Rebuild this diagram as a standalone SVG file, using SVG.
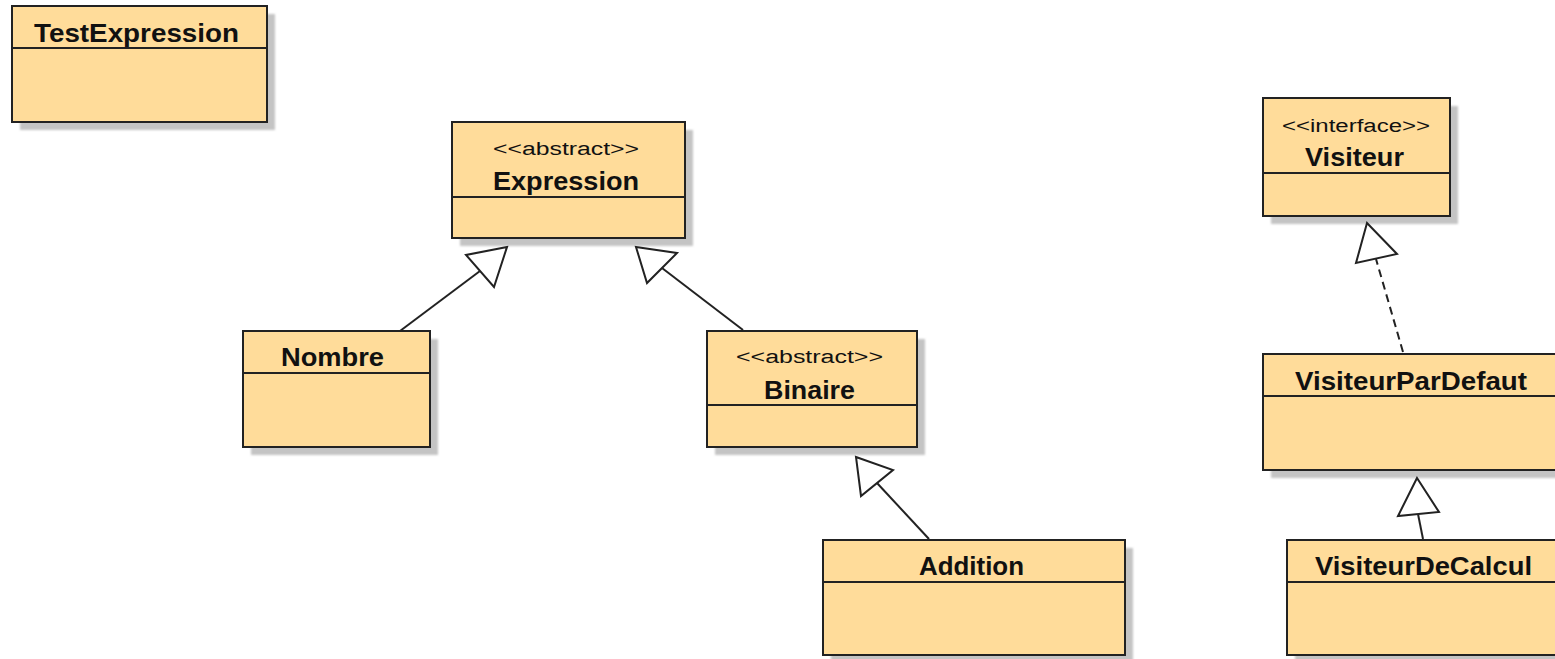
<svg xmlns="http://www.w3.org/2000/svg" width="1555" height="659" viewBox="0 0 1555 659">
<defs>
<filter id="blur" x="-5%" y="-5%" width="110%" height="110%"><feGaussianBlur stdDeviation="1"/></filter>
</defs>
<style>
.shadow{fill:#c4c4c4;filter:url(#blur)}
.box{fill:#ffdc9a;stroke:#222;stroke-width:2}
.div{stroke:#222;stroke-width:2}
.name{font-family:"Liberation Sans",Arial,sans-serif;font-weight:bold;font-size:26px;fill:#111}
.st{font-family:"Liberation Sans",Arial,sans-serif;font-size:18px;fill:#111}
.ln{stroke:#222;stroke-width:2;fill:none}
.dash{stroke:#222;stroke-width:2;fill:none;stroke-dasharray:8 5}
.head{fill:#fff;stroke:#222;stroke-width:2;stroke-linejoin:miter}
</style>
<rect width="1555" height="659" fill="#fff"/>

<g id="TestExpression">
<rect class="shadow" x="20" y="14" width="255" height="116"/>
<rect class="box" x="12" y="6" width="255" height="116"/>
<line class="div" x1="12" y1="48" x2="267" y2="48"/>
<text class="name" x="34" y="42" textLength="205" lengthAdjust="spacingAndGlyphs">TestExpression</text>
</g>

<g id="Expression">
<rect class="shadow" x="460" y="130" width="233" height="116"/>
<rect class="box" x="452" y="122" width="233" height="116"/>
<line class="div" x1="452" y1="197" x2="685" y2="197"/>
<text class="st" x="493" y="155" textLength="146" lengthAdjust="spacingAndGlyphs">&lt;&lt;abstract&gt;&gt;</text>
<text class="name" x="493" y="190" textLength="146" lengthAdjust="spacingAndGlyphs">Expression</text>
</g>

<g id="Nombre">
<rect class="shadow" x="251" y="339" width="187" height="116"/>
<rect class="box" x="243" y="331" width="187" height="116"/>
<line class="div" x1="243" y1="373" x2="430" y2="373"/>
<text class="name" x="281" y="366" textLength="103" lengthAdjust="spacingAndGlyphs">Nombre</text>
</g>

<g id="Binaire">
<rect class="shadow" x="715" y="339" width="210" height="116"/>
<rect class="box" x="707" y="331" width="210" height="116"/>
<line class="div" x1="707" y1="405" x2="917" y2="405"/>
<text class="st" x="736" y="363" textLength="147" lengthAdjust="spacingAndGlyphs">&lt;&lt;abstract&gt;&gt;</text>
<text class="name" x="764" y="399" textLength="91" lengthAdjust="spacingAndGlyphs">Binaire</text>
</g>

<g id="Addition">
<rect class="shadow" x="831" y="548" width="302" height="115"/>
<rect class="box" x="823" y="540" width="302" height="115"/>
<line class="div" x1="823" y1="582" x2="1125" y2="582"/>
<text class="name" x="919" y="575" textLength="105" lengthAdjust="spacingAndGlyphs">Addition</text>
</g>

<g id="Visiteur">
<rect class="shadow" x="1271" y="106" width="187" height="118"/>
<rect class="box" x="1263" y="98" width="187" height="118"/>
<line class="div" x1="1263" y1="173" x2="1450" y2="173"/>
<text class="st" x="1282" y="132" textLength="148" lengthAdjust="spacingAndGlyphs">&lt;&lt;interface&gt;&gt;</text>
<text class="name" x="1305" y="166" textLength="99" lengthAdjust="spacingAndGlyphs">Visiteur</text>
</g>

<g id="VisiteurParDefaut">
<rect class="shadow" x="1271" y="362" width="300" height="116"/>
<rect class="box" x="1263" y="354" width="300" height="116"/>
<line class="div" x1="1263" y1="396" x2="1563" y2="396"/>
<text class="name" x="1295" y="390" textLength="232" lengthAdjust="spacingAndGlyphs">VisiteurParDefaut</text>
</g>

<g id="VisiteurDeCalcul">
<rect class="shadow" x="1295" y="548" width="280" height="115"/>
<rect class="box" x="1287" y="540" width="280" height="115"/>
<line class="div" x1="1287" y1="582" x2="1567" y2="582"/>
<text class="name" x="1315" y="575" textLength="217" lengthAdjust="spacingAndGlyphs">VisiteurDeCalcul</text>
</g>

<g id="connectors">
<line class="ln" x1="400" y1="331" x2="480" y2="271"/>
<polygon class="head" points="507,247 466,255 494,287"/>
<line class="ln" x1="743" y1="330" x2="662" y2="268"/>
<polygon class="head" points="636,247 677,253 647,283"/>
<line class="ln" x1="929" y1="539" x2="877" y2="483"/>
<polygon class="head" points="856,457 893,470 861,496"/>
<line class="dash" x1="1403" y1="352" x2="1376" y2="259"/>
<polygon class="head" points="1367,223 1356,263 1397,254"/>
<line class="ln" x1="1423" y1="539" x2="1418" y2="514"/>
<polygon class="head" points="1417,478 1398,516 1439,512"/>
</g>
</svg>
